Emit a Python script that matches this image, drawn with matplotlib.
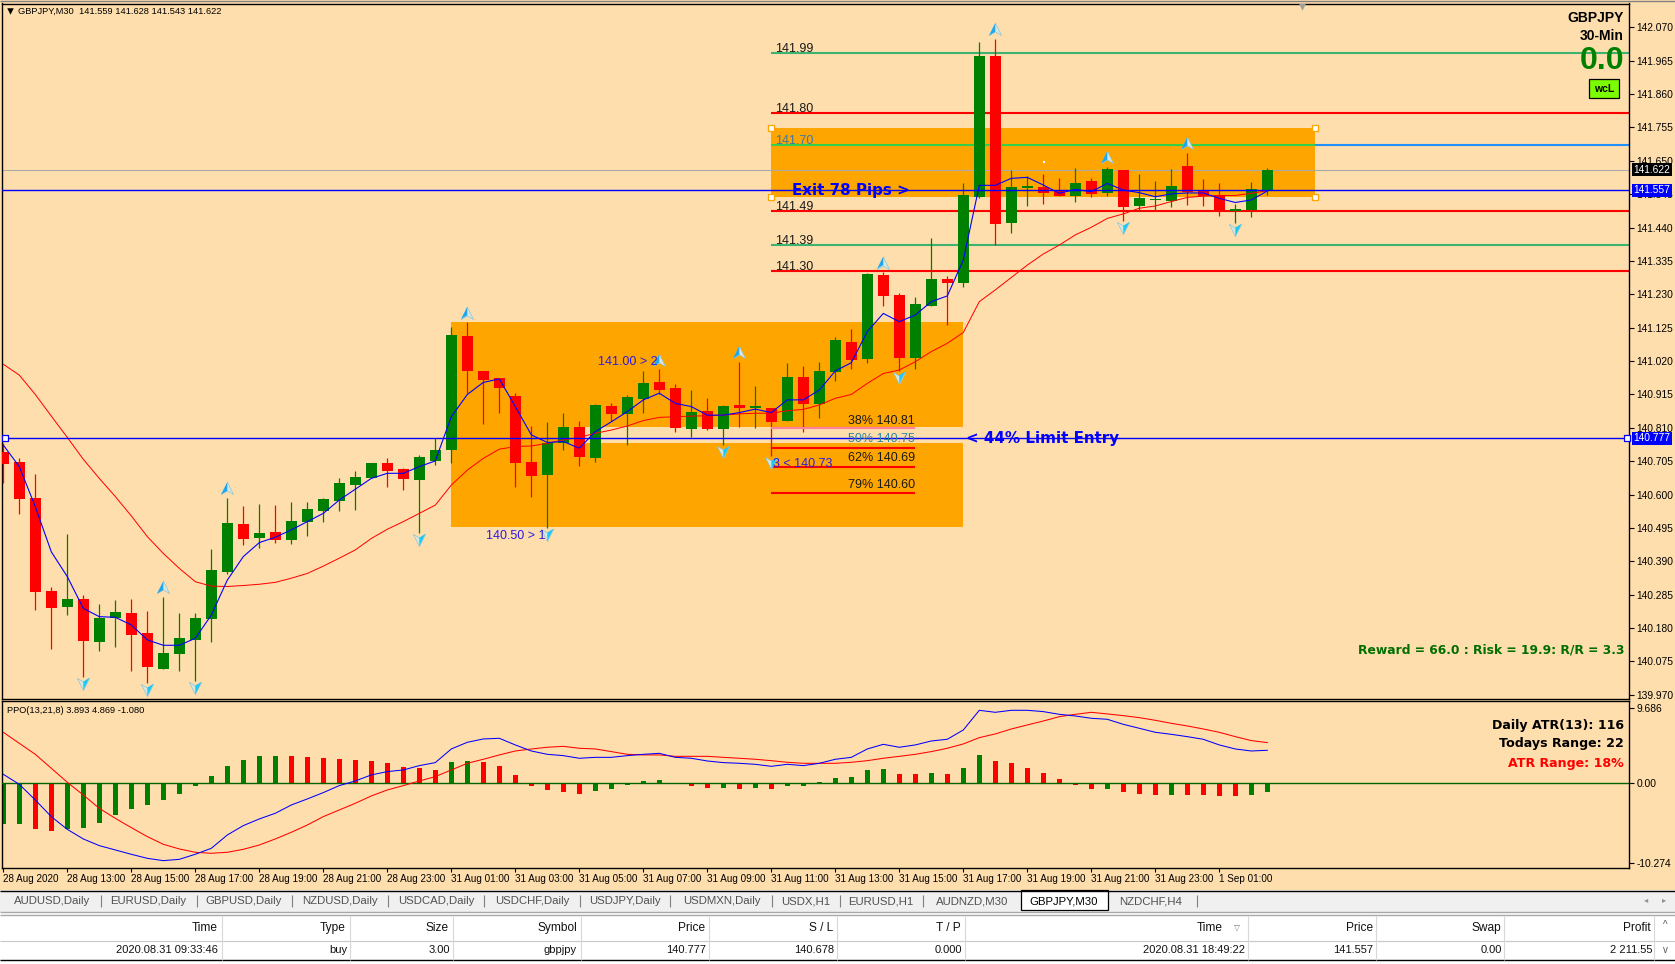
import numpy as np
import matplotlib
matplotlib.use('Agg')
import matplotlib.pyplot as plt
from matplotlib.path import Path
from matplotlib.patches import Rectangle

plt.rcParams['font.family'] = ['Liberation Sans', 'DejaVu Sans']

W, H = 1675, 964
BG = '#FFDEAD'
ORANGE = '#FFA500'
SEAGREEN = '#3CB371'

# candles, M30
opens = [140.734, 140.703, 140.589, 140.297, 140.246, 140.272, 140.136, 140.212, 140.228, 140.165,
         140.051, 140.099, 140.143, 140.209, 140.357, 140.508, 140.464, 140.482, 140.457, 140.514,
         140.548, 140.580, 140.630, 140.652, 140.699, 140.681, 140.646, 140.706, 140.740, 141.099,
         140.989, 140.967, 140.910, 140.703, 140.662, 140.762, 140.813, 140.715, 140.879, 140.854,
         140.901, 140.954, 140.935, 140.806, 140.863, 140.806, 140.882, 140.872, 140.872, 140.832,
         140.970, 140.885, 140.986, 141.080, 141.027, 141.291, 141.228, 141.030, 141.193, 141.278,
         141.266, 141.536, 141.980, 141.454, 141.565, 141.568, 141.558, 141.539, 141.587, 141.549,
         141.621, 141.508, 141.527, 141.524, 141.634, 141.555, 141.543, 141.492, 141.495, 141.559]
closes = [140.697, 140.586, 140.294, 140.243, 140.272, 140.140, 140.212, 140.231, 140.158, 140.058,
          140.102, 140.149, 140.212, 140.363, 140.511, 140.460, 140.479, 140.457, 140.517, 140.555,
          140.586, 140.637, 140.655, 140.699, 140.674, 140.649, 140.718, 140.740, 141.102, 140.989,
          140.961, 140.935, 140.699, 140.659, 140.762, 140.813, 140.718, 140.882, 140.854, 140.907,
          140.951, 140.929, 140.810, 140.860, 140.806, 140.879, 140.872, 140.879, 140.828, 140.970,
          140.885, 140.989, 141.086, 141.023, 141.294, 141.226, 141.030, 141.200, 141.278, 141.266,
          141.543, 141.980, 141.451, 141.568, 141.571, 141.549, 141.539, 141.580, 141.546, 141.624,
          141.505, 141.533, 141.530, 141.571, 141.552, 141.539, 141.492, 141.498, 141.561, 141.622]
highs = [140.761, 140.715, 140.665, 140.309, 140.476, 140.284, 140.256, 140.269, 140.272, 140.234,
         140.278, 140.228, 140.228, 140.429, 140.589, 140.564, 140.570, 140.567, 140.577, 140.577,
         140.589, 140.652, 140.674, 140.699, 140.715, 140.684, 140.725, 140.778, 141.127, 141.143,
         140.989, 140.967, 140.920, 140.816, 140.828, 140.857, 140.832, 140.885, 140.888, 140.913,
         140.989, 140.995, 140.948, 140.929, 140.904, 140.882, 141.017, 140.942, 140.872, 141.014,
         141.005, 141.017, 141.096, 141.121, 141.296, 141.301, 141.233, 141.221, 141.407, 141.288,
         141.580, 142.024, 142.033, 141.621, 141.602, 141.609, 141.596, 141.627, 141.596, 141.631,
         141.621, 141.609, 141.587, 141.624, 141.675, 141.593, 141.580, 141.514, 141.583, 141.628]
lows = [140.638, 140.539, 140.237, 140.114, 140.221, 140.026, 140.108, 140.121, 140.045, 140.007,
        140.051, 140.045, 140.014, 140.136, 140.350, 140.441, 140.432, 140.448, 140.445, 140.470,
        140.514, 140.548, 140.552, 140.652, 140.624, 140.614, 140.479, 140.693, 140.699, 140.920,
        140.822, 140.857, 140.624, 140.592, 140.496, 140.740, 140.690, 140.703, 140.832, 140.756,
        140.857, 140.916, 140.797, 140.781, 140.803, 140.756, 140.813, 140.810, 140.721, 140.832,
        140.797, 140.841, 140.957, 140.995, 141.014, 141.193, 140.989, 140.995, 141.193, 141.134,
        141.253, 141.533, 141.385, 141.423, 141.508, 141.514, 141.539, 141.520, 141.536, 141.539,
        141.461, 141.492, 141.495, 141.505, 141.511, 141.508, 141.476, 141.454, 141.473, 141.543]

ma_fast = [140.756, 140.688, 140.562, 140.420, 140.342, 140.242, 140.216, 140.214, 140.190, 140.143,
           140.126, 140.126, 140.148, 140.221, 140.331, 140.405, 140.449, 140.466, 140.489, 140.515,
           140.541, 140.583, 140.617, 140.651, 140.667, 140.667, 140.688, 140.706, 140.845, 140.915,
           140.953, 140.964, 140.877, 140.788, 140.764, 140.767, 140.746, 140.798, 140.829, 140.861,
           140.898, 140.919, 140.887, 140.877, 140.850, 140.850, 140.858, 140.869, 140.858, 140.898,
           140.898, 140.929, 140.989, 141.015, 141.113, 141.170, 141.144, 141.165, 141.207, 141.225,
           141.338, 141.573, 141.573, 141.595, 141.598, 141.574, 141.548, 141.560, 141.553, 141.579,
           141.558, 141.550, 141.537, 141.546, 141.549, 141.549, 141.532, 141.519, 141.527, 141.555]
ma_slow = [141.010, 140.976, 140.915, 140.847, 140.780, 140.711, 140.651, 140.594, 140.533, 140.468,
           140.415, 140.368, 140.326, 140.312, 140.311, 140.314, 140.318, 140.324, 140.337, 140.352,
           140.375, 140.400, 140.426, 140.462, 140.491, 140.515, 140.541, 140.567, 140.630, 140.677,
           140.714, 140.743, 140.751, 140.753, 140.761, 140.772, 140.780, 140.793, 140.803, 140.816,
           140.833, 140.843, 140.845, 140.847, 140.848, 140.850, 140.854, 140.856, 140.856, 140.864,
           140.868, 140.882, 140.903, 140.915, 140.950, 140.981, 140.992, 141.018, 141.050, 141.076,
           141.110, 141.207, 141.244, 141.283, 141.322, 141.357, 141.385, 141.417, 141.441, 141.469,
           141.483, 141.501, 141.508, 141.522, 141.535, 141.539, 141.541, 141.541, 141.548, 141.556]

fractal_up_idx = [10, 14, 29, 41, 46, 55, 62, 69, 74]
fractal_up = [140.308, 140.620, 141.172, 141.023, 141.048, 141.330, 142.064, 141.661, 141.705]
fractal_dn_idx = [5, 9, 12, 26, 34, 45, 48, 56, 70, 77]
fractal_dn = [140.004, 139.985, 139.991, 140.457, 140.473, 140.733, 140.698, 140.968, 141.438, 141.432]

# PPO pane
ppo_hist = [-5.25, -5.25, -5.89, -6.15, -5.89, -5.76, -5.12, -4.09, -3.31, -2.80,
            -2.15, -1.38, -0.34, 0.95, 2.24, 3.01, 3.53, 3.53, 3.53, 3.40,
            3.27, 3.14, 3.01, 2.88, 2.62, 2.11, 1.98, 1.72, 2.75, 2.88,
            2.75, 2.24, 1.08, -0.34, -0.86, -1.12, -1.38, -0.99, -0.73, -0.22,
            0.30, 0.43, 0.03, -0.34, -0.60, -0.60, -0.73, -0.60, -0.73, -0.34,
            -0.34, 0.17, 0.69, 0.82, 1.72, 1.85, 1.20, 1.20, 1.33, 1.20,
            1.98, 3.66, 2.88, 2.62, 1.98, 1.33, 0.56, -0.22, -0.73, -0.73,
            -1.12, -1.38, -1.51, -1.51, -1.51, -1.51, -1.63, -1.63, -1.51, -1.12]
ppo_dir = ('GGRRGGGGGG' 'GGGGGGGGRR' 'RRRRRRRRGG' 'RRRRRRRGGG' 'GGGRRGRGRG'
           'GGGGGGRRGR' 'GGRRRRRRRG' 'RRRGRRRRGG')
ppo_line = [1.16, -0.13, -2.15, -4.30, -5.94, -7.18, -8.04, -8.60, -9.16, -9.68,
            -9.98, -9.81, -9.16, -8.39, -6.67, -5.46, -4.60, -3.87, -2.80, -2.02,
            -1.20, -0.30, 0.30, 1.08, 1.51, 1.72, 2.28, 2.67, 4.43, 5.29,
            5.72, 5.81, 4.95, 4.17, 3.74, 3.57, 3.23, 3.35, 3.35, 3.57,
            3.74, 3.87, 3.35, 3.23, 2.88, 2.67, 2.58, 2.45, 2.19, 2.45,
            2.28, 2.58, 3.10, 3.35, 4.43, 5.03, 4.65, 4.95, 5.46, 5.68,
            6.88, 9.42, 9.16, 9.42, 9.42, 9.25, 8.90, 8.69, 8.39, 8.26,
            7.61, 7.10, 6.58, 6.32, 6.02, 5.68, 4.95, 4.43, 4.17, 4.26]
ppo_signal = [6.58, 5.16, 3.74, 1.94, 0.13, -1.51, -3.23, -4.52, -5.72, -6.88,
              -7.87, -8.47, -8.90, -9.03, -8.90, -8.52, -7.96, -7.18, -6.32, -5.38,
              -4.30, -3.44, -2.58, -1.63, -0.86, -0.30, 0.30, 0.86, 1.72, 2.58,
              3.10, 3.66, 4.17, 4.43, 4.65, 4.77, 4.52, 4.43, 4.09, 3.74,
              3.66, 3.66, 3.48, 3.48, 3.48, 3.35, 3.23, 3.10, 2.92, 2.71,
              2.58, 2.58, 2.58, 2.71, 2.92, 3.23, 3.48, 3.74, 4.09, 4.52,
              5.08, 5.89, 6.37, 7.01, 7.53, 8.04, 8.60, 8.90, 9.16, 8.95,
              8.73, 8.47, 8.13, 7.74, 7.40, 7.01, 6.58, 6.02, 5.51, 5.25]

# axes labels
price_ticks = [142.070, 141.965, 141.860, 141.755, 141.650, 141.545, 141.440, 141.335, 141.230, 141.125,
               141.020, 140.915, 140.810, 140.705, 140.600, 140.495, 140.390, 140.285, 140.180, 140.075, 139.970]
time_tick_idx = list(range(0, 80, 4))
time_labels = ['28 Aug 2020', '28 Aug 13:00', '28 Aug 15:00', '28 Aug 17:00', '28 Aug 19:00', '28 Aug 21:00',
               '28 Aug 23:00', '31 Aug 01:00', '31 Aug 03:00', '31 Aug 05:00', '31 Aug 07:00', '31 Aug 09:00',
               '31 Aug 11:00', '31 Aug 13:00', '31 Aug 15:00', '31 Aug 17:00', '31 Aug 19:00', '31 Aug 21:00',
               '31 Aug 23:00', '1 Sep 01:00']

# window furniture
tab_names = ['AUDUSD,Daily', 'EURUSD,Daily', 'GBPUSD,Daily', 'NZDUSD,Daily', 'USDCAD,Daily', 'USDCHF,Daily',
             'USDJPY,Daily', 'USDMXN,Daily', 'USDX,H1', 'EURUSD,H1', 'AUDNZD,M30', 'GBPJPY,M30', 'NZDCHF,H4']
tab_centers = [52, 148, 244, 340, 436, 532, 625, 722, 806, 881, 972, 1064, 1151]
tab_seps = [101, 197, 292, 388, 484, 580, 670, 772, 840, 923, 1197]
col_headers = ['Time', 'Type', 'Size', 'Symbol', 'Price', 'S / L', 'T / P', 'Time', 'Price', 'Swap', 'Profit']
col_right = [218, 346, 449, 577, 705, 833, 961, 1223, 1373, 1501, 1651]
col_seps = [222, 350, 453, 581, 709, 837, 965, 1248, 1376, 1504, 1654]
row_values = ['2020.08.31 09:33:46', 'buy', '3.00', 'gbpjpy', '140.777', '140.678', '0.000',
              '2020.08.31 18:49:22', '141.557', '0.00', '2 211.55']
row_right = [218, 347, 450, 577, 706, 834, 962, 1245, 1373, 1502, 1653]


def px_axes(x0, y0, x1, y1, **kw):
    # axes from pixel box, y measured from the top
    return fig.add_axes([x0 / W, 1 - y1 / H, (x1 - x0) / W, (y1 - y0) / H], **kw)


def ix(px):
    # candle index at pixel column
    return (px - 3.3) / 16.0


fig = plt.figure(figsize=(W / 100, H / 100), dpi=100, facecolor=BG)

ax = px_axes(2, 3.5, 1629, 699, facecolor=BG)
ppo = px_axes(2, 701, 1629, 868, facecolor=BG)
ov = fig.add_axes([0, 0, 1, 1], facecolor='none')
ov.set_xlim(0, W)
ov.set_ylim(H, 0)
ov.axis('off')
ov.set_zorder(-1)
ax.set_zorder(2)
ppo.set_zorder(2)

xs = np.arange(80)
o, h, l, c = map(np.array, (opens, highs, lows, closes))
up = c >= o
colors = np.where(up, '#008000', '#FF0000')

# main pane
ax.set_xlim(ix(2), ix(1629))
ax.set_ylim(139.957, 142.145)

ax.add_patch(Rectangle((28, 140.499), 32, 141.143 - 140.499, fc=ORANGE, ec='none', zorder=1))
ax.add_patch(Rectangle((ix(585), 140.762), 60 - ix(585), 0.051, fc=BG, ec='none', zorder=1.1))
ax.add_patch(Rectangle((48, 141.537), 34, 141.752 - 141.537, fc=ORANGE, ec='none', zorder=1))

ax.hlines([141.990, 141.386], 48, ix(1629), color=SEAGREEN, lw=1.5, zorder=2)
ax.hlines([141.801, 141.493, 141.304], 48, ix(1629), color='#FF0000', lw=1.5, zorder=2)
ax.hlines(141.701, 48, 82, color='#34D04A', lw=1.5, zorder=2)
ax.hlines(141.701, 82, ix(1629), color='#1E90FF', lw=1.5, zorder=2)
ax.axhline(141.622, color='#A9A9A9', lw=0.8, zorder=2)

ax.vlines(xs, l, h, color=colors, lw=0.9, zorder=3)
ax.bar(xs, np.abs(c - o), bottom=np.minimum(o, c), width=0.69, color=colors, lw=0, zorder=3.1)

ax.plot(xs, ma_slow, color='#FF0000', lw=0.72, zorder=4)
ax.plot(xs, ma_fast, color='#0000FF', lw=0.8, zorder=4.1)

ax.axhline(141.557, color='#0000FF', lw=1.0, zorder=4.2)
ax.axhline(140.777, color='#0000FF', lw=1.0, zorder=4.2)

ax.hlines(140.809, 48, 57, color='#FF80A0', lw=1.5, zorder=4.3)
ax.hlines([140.748, 140.688, 140.606], 48, 57, color='#FF0000', lw=1.5, zorder=4.3)

# fractal arrows, pale body with blue half
up_full = Path([(-1, -1), (0, 1), (1, -1), (0, -.4), (-1, -1)], closed=True)
up_half = Path([(-1, -1), (0, 1), (0, -.4), (-1, -1)], closed=True)
dn_full = Path([(-1, 1), (0, -1), (1, 1), (0, .4), (-1, 1)], closed=True)
dn_half = Path([(1, 1), (0, -1), (0, .4), (1, 1)], closed=True)
ax.scatter(fractal_up_idx, fractal_up, marker=up_full, s=78, fc='#D8E8E0', ec='#8CC4D6', lw=0.5, zorder=5)
ax.scatter(fractal_up_idx, fractal_up, marker=up_half, s=78, fc='#1EA7EE', ec='none', zorder=5.1)
ax.scatter(fractal_dn_idx, fractal_dn, marker=dn_full, s=78, fc='#D8E8E0', ec='#8CC4D6', lw=0.5, zorder=5)
ax.scatter(fractal_dn_idx, fractal_dn, marker=dn_half, s=78, fc='#1EC8F5', ec='none', zorder=5.1)

ax.yaxis.tick_right()
ax.set_yticks(price_ticks)
ax.set_yticklabels(['%.3f' % t for t in price_ticks], fontsize=7.4, color='black')
ax.tick_params(axis='y', length=3.5, width=0.8, pad=2)
ax.set_xticks([])

for s in ax.spines.values():
    s.set_linewidth(1.0)
for s in ppo.spines.values():
    s.set_linewidth(1.0)

# level labels
lab_kw = dict(fontsize=9, color='#1a1a1a', va='center', ha='left', zorder=6)
for txt, y in [('141.99', 49), ('141.80', 109), ('141.49', 207), ('141.39', 241), ('141.30', 267)]:
    ax.annotate(txt, xy=(775, y), xycoords=ov.transData, annotation_clip=False, **lab_kw)
ax.annotate('141.70', xy=(775, 141), xycoords=ov.transData, fontsize=9, color='#3A78A8', va='center', zorder=6)

fib_labels = [('38% 140.81', 420.5, '#1a1a1a'), ('50% 140.75', 439.5, '#2E86A0'),
              ('62% 140.69', 458, '#1a1a1a'), ('79% 140.60', 485, '#1a1a1a')]
for txt, y, col in fib_labels:
    ax.annotate(txt, xy=(915, y), xycoords=ov.transData, fontsize=9, color=col, va='center', ha='right', zorder=6)

blue_text = '#2A1AE0'
ax.annotate('141.00 > 2', xy=(597.5, 362), xycoords=ov.transData, fontsize=9, color=blue_text, va='center', zorder=6)
ax.annotate('140.50 > 1', xy=(485.5, 536), xycoords=ov.transData, fontsize=9, color=blue_text, va='center', zorder=6)
ax.annotate('3 < 140.73', xy=(773, 464), xycoords=ov.transData, fontsize=9, color=blue_text, va='center', zorder=6)
wide_bold = dict(family='DejaVu Sans', fontweight='bold', va='center', zorder=6)
ax.annotate('Exit 78 Pips >', xy=(792, 191), xycoords=ov.transData, fontsize=10.9, color='#0000FF', **wide_bold)
ax.annotate('< 44% Limit Entry', xy=(966, 439), xycoords=ov.transData, fontsize=10.9, color='#0000FF', **wide_bold)

ax.annotate('GBPJPY', xy=(1624, 18), xycoords=ov.transData, fontsize=10, fontweight='bold', ha='right', va='center', zorder=6)
ax.annotate('30-Min', xy=(1624, 36), xycoords=ov.transData, fontsize=10, fontweight='bold', ha='right', va='center', zorder=6)
ax.annotate('0.0', xy=(1624, 61), xycoords=ov.transData, fontsize=23, fontweight='bold', color='#008000',
            ha='right', va='center', zorder=6)
ax.annotate('Reward = 66.0 : Risk = 19.9: R/R = 3.3', xy=(1624, 650), xycoords=ov.transData, fontsize=8.9,
            color='#006E00', ha='right', **wide_bold)
ax.annotate('GBPJPY,M30  141.559 141.628 141.543 141.622', xy=(18, 11.5), xycoords=ov.transData, fontsize=6.7,
            va='center', zorder=6)

# little chart markers
ax.scatter([ix(10)], [142.145 - 8 / 317.9], marker='v', s=22, c='black', lw=0, zorder=6)
ax.scatter([ix(1302)], [142.145 - 2.5 / 317.9], marker='v', s=38, c='#A0A0A0', lw=0, zorder=6)
ax.scatter([ix(1043.6)], [141.646], marker='s', s=4, c='white', lw=0, zorder=6)
for cx, cy in [(48, 141.752), (48, 141.537), (82, 141.752), (82, 141.537)]:
    ax.scatter([cx], [cy], marker='s', s=14, fc='white', ec=ORANGE, lw=0.9, zorder=6, clip_on=False)
ax.scatter([ix(5)], [140.777], marker='s', s=14, fc='white', ec='#0000FF', lw=0.9, zorder=6)
ax.scatter([ix(1627)], [140.777], marker='s', s=14, fc='white', ec='#0000FF', lw=0.9, zorder=6, clip_on=False)

# price tags
for val, col in [(141.622, 'black'), (141.557, '#0000FF'), (140.777, '#0000FF')]:
    ax.annotate('%.3f' % val, xy=(1652, 27.3 + (142.07 - val) * 317.9), xycoords=ov.transData, fontsize=7.4, color='white',
                ha='center', va='center', annotation_clip=False, zorder=8,
                bbox=dict(boxstyle='square,pad=0.16', fc=col, ec=col, lw=0))

# PPO pane
ppo.set_xlim(ix(2), ix(1629))
ppo.set_ylim((783.3 - 868) / 7.75, (783.3 - 701) / 7.75)
bar_cols = ['#008000' if d == 'G' else '#FF0000' for d in ppo_dir]
ppo.bar(xs, ppo_hist, width=0.31, color=bar_cols, lw=0, zorder=2)
ppo.axhline(0, color='#006400', lw=1.0, zorder=3)
ppo.plot(xs, ppo_signal, color='#FF0000', lw=0.75, zorder=4)
ppo.plot(xs, ppo_line, color='#0000FF', lw=0.75, zorder=4)

ppo.yaxis.tick_right()
ppo.set_yticks([9.686, 0, -10.274])
ppo.set_yticklabels(['9.686', '0.00', '-10.274'], fontsize=7.4)
ppo.tick_params(axis='y', length=3.5, width=0.8, pad=2)
ppo.set_xticks(time_tick_idx)
ppo.set_xticklabels(time_labels, fontsize=7.1, ha='left')
ppo.tick_params(axis='x', length=3, width=0.8, pad=1)

ppo.annotate('PPO(13,21,8) 3.893 4.869 -1.080', xy=(7, 710.5), xycoords=ov.transData, fontsize=6.7, va='center', zorder=6)
ppo.annotate('Daily ATR(13): 116', xy=(1624, 725), xycoords=ov.transData, fontsize=9.1, ha='right', **wide_bold)
ppo.annotate('Todays Range: 22', xy=(1624, 744), xycoords=ov.transData, fontsize=9.1, ha='right', **wide_bold)
ppo.annotate('ATR Range: 18%', xy=(1624, 763), xycoords=ov.transData, fontsize=9.1, color='#FF0000', ha='right', **wide_bold)

# tab strip and trade table underneath
ui = fig.add_axes([0, 0, 1, 1], facecolor='none')
ui.set_xlim(0, W)
ui.set_ylim(H, 0)
ui.axis('off')
ui.set_zorder(3)
ui.hlines(0.5, 0, W, color='#808080', lw=1.0)
ui.add_patch(Rectangle((1589, 78.5), 30, 19, fc='#7CFC00', ec='black', lw=0.9))
ui.text(1604, 88.5, 'wcL', fontsize=7.5, fontweight='bold', ha='center', va='center')
ui.add_patch(Rectangle((0, 890), W, 74, fc='white', ec='none'))
ui.add_patch(Rectangle((0, 890), W, 22, fc='#F0F0F0', ec='none'))
ui.hlines(890.5, 0, W, color='black', lw=1.0)
ui.hlines(912, 0, W, color='#A8A8A8', lw=1.0)
ui.hlines(914.5, 0, W, color='#A8A8A8', lw=1.0)
ui.hlines(940.5, 0, W, color='#C8C8C8', lw=0.8)
ui.hlines(960, 0, W, color='black', lw=1.0)
ui.add_patch(Rectangle((1021, 890), 87, 19.5, fc='white', ec='black', lw=0.9))
for sx in tab_seps:
    ui.vlines(sx, 895, 907, color='#808080', lw=0.8)
for name, cx in zip(tab_names, tab_centers):
    col = 'black' if name == 'GBPJPY,M30' else '#505050'
    ui.text(cx, 901, name, fontsize=8.2, ha='center', va='center', color=col)
ui.text(1646, 901, '\u25c2', fontsize=6, color='#909090', ha='center', va='center')
ui.text(1664, 901, '\u25b8', fontsize=6, color='#909090', ha='center', va='center')

for sx in col_seps:
    ui.vlines(sx, 916, 960, color='#D8D8D8', lw=0.8)
for txt, rx in zip(col_headers, col_right):
    ui.text(rx, 928, txt, fontsize=8.6, ha='right', va='center', color='#111111')
for txt, rx in zip(row_values, row_right):
    ui.text(rx, 950, txt, fontsize=8.0, ha='right', va='center', color='#111111')
ui.text(1237, 928, '\u25bd', fontsize=5.5, color='#777777', ha='center', va='center')
ui.text(1665, 925, '^', fontsize=7, color='#555555', ha='center', va='center')
ui.text(1665, 950, 'v', fontsize=7, color='#555555', ha='center', va='center')

fig.savefig('out.png', dpi=100, facecolor=BG)
